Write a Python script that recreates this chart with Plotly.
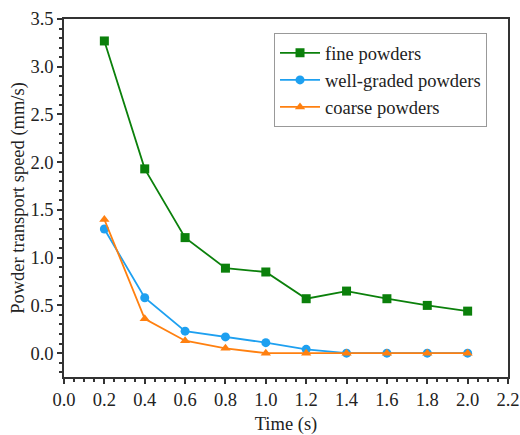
import plotly.graph_objects as go

time_s = [0.2, 0.4, 0.6, 0.8, 1.0, 1.2, 1.4, 1.6, 1.8, 2.0]
fine = [3.27, 1.93, 1.21, 0.89, 0.85, 0.57, 0.65, 0.57, 0.50, 0.44]
well_graded = [1.30, 0.58, 0.23, 0.17, 0.11, 0.04, 0.0, 0.0, 0.0, 0.0]
coarse = [1.40, 0.36, 0.13, 0.05, 0.0, 0.0, 0.0, 0.0, 0.0, 0.0]

series = [
    ("fine powders", fine, "#0b800b", "square"),
    ("well-graded powders", well_graded, "#1ea0f0", "circle"),
    ("coarse powders", coarse, "#ff8010", "triangle-up"),
]

fig = go.Figure()
for name, ys, color, symbol in series:
    fig.add_trace(go.Scatter(
        x=time_s, y=ys, name=name, mode="lines+markers",
        line=dict(color=color, width=1.8),
        marker=dict(symbol=symbol, size=9, color=color),
    ))

font = "Liberation Serif, Times New Roman, serif"
fsize = 18.5
axis_common = dict(
    showline=True, linecolor="#333333", linewidth=1.5, mirror=True,
    ticks="outside", ticklen=5, tickwidth=1.5, tickcolor="#333333",
    showgrid=False, zeroline=False, automargin=False,
    tickfont=dict(family=font, size=fsize, color="#222222"),
    minor=dict(ticks="outside", ticklen=3, tickwidth=1.5, tickcolor="#333333"),
)

fig.update_xaxes(
    range=[0, 2.2], dtick=0.2, tickformat=".1f",
    title=dict(text="Time (s)", font=dict(family=font, size=fsize, color="#222222"), standoff=10),
    **axis_common,
)
fig.update_yaxes(
    range=[-0.25, 3.5], dtick=0.5, tickformat=".1f",
    title=dict(text="Powder transport speed (mm/s)", font=dict(family=font, size=fsize, color="#222222"), standoff=1),
    **axis_common,
)

fig.update_layout(
    width=520, height=435,
    margin=dict(l=64, r=12, t=19, b=58),
    paper_bgcolor="white", plot_bgcolor="white",
    font=dict(family=font),
    legend=dict(
        x=0.473, y=0.96, xanchor="left", yanchor="top",
        bordercolor="#999999", borderwidth=1, bgcolor="white",
        font=dict(family=font, size=fsize, color="#222222"),
        tracegroupgap=0, itemwidth=40,
    ),
    showlegend=True,
)

fig.write_html("out.html")
